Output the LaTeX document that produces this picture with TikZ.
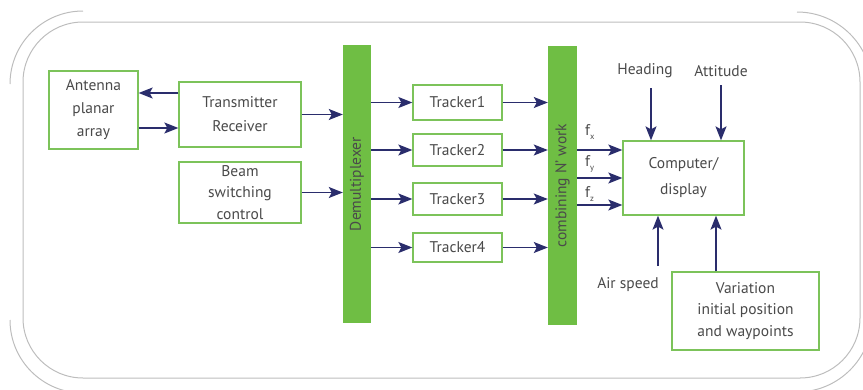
\documentclass[tikz,border=0pt]{standalone}
\usepackage{fontspec}
\setmainfont{PT Sans}
\usetikzlibrary{arrows.meta,calc}
\definecolor{boxgreen}{HTML}{7CC35A}
\definecolor{barfill}{HTML}{6FBE44}
\definecolor{navy}{HTML}{2A2D6C}
\definecolor{txt}{HTML}{4A4A4A}
\definecolor{framegray}{HTML}{BDBDBD}
\newcommand{\subx}[1]{\raisebox{-4pt}{\fontsize{8.5}{8.5}\selectfont #1}}
\begin{document}
\begin{tikzpicture}[x=1pt,y=-1pt,
  font=\fontsize{15.5}{22}\selectfont, text=txt,
  box/.style={draw=boxgreen, line width=1.3pt, fill=white, align=center, inner sep=0pt},
  bar/.style={fill=barfill, draw=none, inner sep=0pt},
  arr/.style={draw=navy, line width=1.3pt, -{Stealth[length=14pt,width=11pt,inset=3pt]}},
  lbl/.style={inner sep=1pt},
  framel/.style={draw=framegray, line width=1pt}]
\clip (0,0) rectangle (863,389);

% decorative frame
\draw[framel, rounded corners=60pt] (23,22) rectangle (860,378);
\draw[framel] (10,84) arc[start angle=180, end angle=270, radius=73];
\draw[framel] (10,320) arc[start angle=180, end angle=90, radius=73];
\draw[framel] (797,12) arc[start angle=270, end angle=360, radius=75]
  -- (872,317) arc[start angle=0, end angle=90, radius=75];

% blocks
\node[box, minimum width=89pt, minimum height=78pt, font=\fontsize{15.5}{23}\selectfont] (ant) at (93.5,110) {Antenna\\planar\\array};
\node[box, minimum width=122pt, minimum height=65pt, font=\fontsize{15.5}{24}\selectfont] (tr) at (240,114.5) {Transmitter\\Receiver};
\node[box, minimum width=122pt, minimum height=61pt, font=\fontsize{15.5}{21.5}\selectfont] (beam) at (240,192.5) {Beam\\switching\\control};

\node[bar, minimum width=28pt, minimum height=278pt] (demux) at (357,184) {};
\node[rotate=90] (demuxlbl) at (357,184) {Demultiplexer};

\node[box, minimum width=89pt, minimum height=35pt] (t1) at (457.5,102.5) {Tracker1};
\node[box, minimum width=89pt, minimum height=32pt] (t2) at (457.5,150) {Tracker2};
\node[box, minimum width=89pt, minimum height=32pt] (t3) at (457.5,199) {Tracker3};
\node[box, minimum width=89pt, minimum height=29pt] (t4) at (457.5,247.5) {Tracker4};

\node[bar, minimum width=29pt, minimum height=279pt] (comb) at (562.5,185.5) {};
\node[rotate=90] (comblbl) at (562.5,185.5) {combining N’ work};

\node[box, minimum width=121pt, minimum height=74pt, font=\fontsize{15.5}{26}\selectfont] (comp) at (683.5,178) {Computer/\\display};
\node[box, minimum width=147pt, minimum height=78pt, font=\fontsize{15.5}{21.5}\selectfont] (var) at (745.5,311) {Variation\\initial position\\and waypoints};

% external inputs
\node[lbl] (head) at (645,71) {Heading};
\node[lbl] (att) at (721,71) {Attitude};
\node[lbl] (air) at (628,285) {Air speed};
\coordinate (headin) at (651,88);
\coordinate (attin) at (721,85);
\coordinate (airin) at (658,266);

% connectors
\draw[arr] ([yshift=21.5pt]tr.west) -- ([yshift=21.5pt]tr.west -| ant.east);
\draw[arr] ([yshift=-18pt]ant.east) -- ([yshift=-18pt]ant.east -| tr.west);
\draw[arr] (tr.east) -- (tr.east -| demux.west);
\draw[arr] (beam.east) -- (beam.east -| demux.west);
\foreach \t in {t1,t2,t3,t4}{
  \draw[arr] (demux.east |- \t.west) -- (\t.west);
  \draw[arr] (\t.east) -- (\t.east -| comb.west);
}
\draw[arr] ([yshift=28pt]comp.west -| comb.east) -- ([yshift=28pt]comp.west);
\draw[arr] (comp.west -| comb.east) -- (comp.west);
\draw[arr] ([yshift=-27pt]comp.west -| comb.east) -- ([yshift=-27pt]comp.west);
\node[lbl, anchor=base west] (fx) at (584,135) {f\subx{x}};
\node[lbl, anchor=base west] (fy) at (584,166) {f\subx{y}};
\node[lbl, anchor=base west] (fz) at (584,197) {f\subx{z}};

\draw[arr] (headin) -- (headin |- comp.north);
\draw[arr] (attin) -- (attin |- comp.north);
\draw[arr] (airin) -- (airin |- comp.south);
\draw[arr] ([xshift=-29.5pt]var.north) -- ([xshift=-29.5pt]var.north |- comp.south);
\end{tikzpicture}
\end{document}
